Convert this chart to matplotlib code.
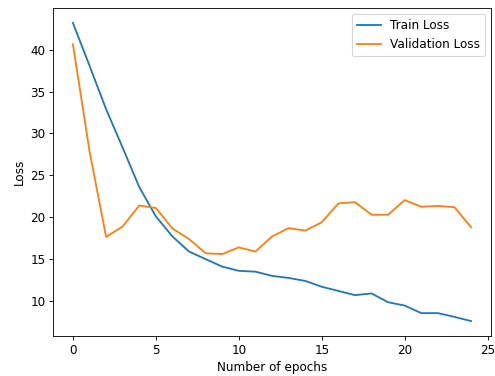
import numpy as np
import matplotlib
matplotlib.use('Agg')
import matplotlib.pyplot as plt

epochs = list(range(25))
train_loss = [43.2, 38.1, 32.9, 28.3, 23.6, 20.1, 17.7, 15.9, 15.0, 14.1,
              13.6, 13.5, 13.0, 12.75, 12.4, 11.7, 11.2, 10.7, 10.9, 9.85,
              9.45, 8.55, 8.55, 8.1, 7.6]
val_loss = [40.65, 27.9, 17.65, 18.9, 21.4, 21.1, 18.65, 17.4, 15.7, 15.6,
            16.4, 15.9, 17.7, 18.7, 18.4, 19.4, 21.65, 21.8, 20.3, 20.3,
            22.05, 21.25, 21.35, 21.2, 18.8]

plt.rcParams['font.size'] = 11.2
plt.rcParams['lines.linewidth'] = 1.7

dpi = 77.3
fig = plt.figure(figsize=(495 / dpi, 376 / dpi), dpi=dpi)
ax = fig.add_subplot(111)
fig.subplots_adjust(left=53 / 495, right=491 / 495, top=1 - 8 / 376, bottom=1 - 336 / 376)

ax.plot(epochs, train_loss, label='Train Loss')
ax.plot(epochs, val_loss, label='Validation Loss')
ax.set_xlabel('Number of epochs')
ax.set_ylabel('Loss')
ax.legend(loc='upper right')

fig.savefig('out.png', dpi=dpi)
